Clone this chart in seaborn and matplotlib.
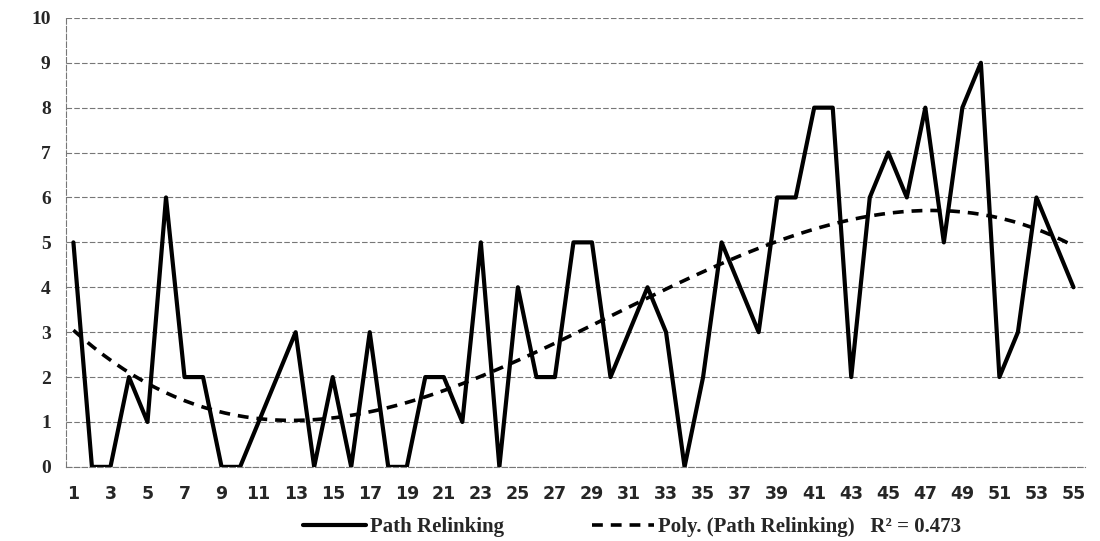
import numpy as np
import pandas as pd
import seaborn as sns
import matplotlib.pyplot as plt
from matplotlib.lines import Line2D


sns.set_theme(style="white")

iterations = list(range(1, 56))
path_relinking = [5, 0, 0, 2, 1, 6, 2, 2, 0, 0,
                  1, 2, 3, 0, 2, 0, 3, 0, 0, 2,
                  2, 1, 5, 0, 4, 2, 2, 5, 5, 2,
                  3, 4, 3, 0, 2, 5, 4, 3, 6, 6,
                  8, 8, 2, 6, 7, 6, 8, 5, 8, 9,
                  2, 3, 6, 5, 4]
x_tick_labels = [str(i) for i in iterations[::2]]
y_ticks = list(range(0, 11))

df = pd.DataFrame({"iteration": iterations, "value": path_relinking})

fig = plt.figure(figsize=(11, 5.41), dpi=100)
ax = fig.add_axes([0.06, 0.137, 0.926, 0.83])

# cubic trendline, like Excel's Poly. (order 3)
sns.regplot(data=df, x="iteration", y="value", order=3, scatter=False, ci=None,
            truncate=True, ax=ax,
            line_kws={"color": "black", "lw": 2.6, "dashes": (3, 2.2)})
sns.lineplot(data=df, x="iteration", y="value", color="black", lw=3.0, ax=ax)

ax.set_xlim(0.6, 55.6)
ax.set_ylim(0, 10)
ax.set_xticks(iterations[::2])
ax.set_xticks(iterations, minor=True)
ax.set_xticklabels(x_tick_labels, fontsize=12.5, fontweight="bold", family="DejaVu Sans")
ax.set_yticks(y_ticks)
ax.set_yticklabels([str(v) for v in y_ticks], fontsize=14, fontweight="bold",
                   family="Liberation Serif")
ax.set_xlabel("")
ax.set_ylabel("")

ax.yaxis.grid(True, color="#777777", linestyle=(0, (5, 2)), lw=0.8)
for side in ["top", "right"]:
    ax.spines[side].set_visible(False)
for side in ["left", "bottom"]:
    ax.spines[side].set_color("#777777")
    ax.spines[side].set_linestyle((0, (5, 2)))
    ax.spines[side].set_linewidth(0.8)
ax.tick_params(axis="x", which="both", direction="out", length=4, color="#777777", pad=9)
ax.tick_params(axis="y", length=3, color="#777777", pad=8)

handles = [Line2D([], [], color="black", lw=3.0),
           Line2D([], [], color="black", lw=2.6, dashes=(3, 2.2))]
labels = ["Path Relinking", "Poly. (Path Relinking)   R\u00b2 = 0.473"]
fig.legend(handles, labels, loc="center", bbox_to_anchor=(0.575, 0.026), ncol=2,
           frameon=False, handlelength=3.0, handletextpad=0.2, columnspacing=4.2,
           prop={"family": "Liberation Serif", "size": 15, "weight": "bold"})

fig.savefig("out.png", dpi=100)
